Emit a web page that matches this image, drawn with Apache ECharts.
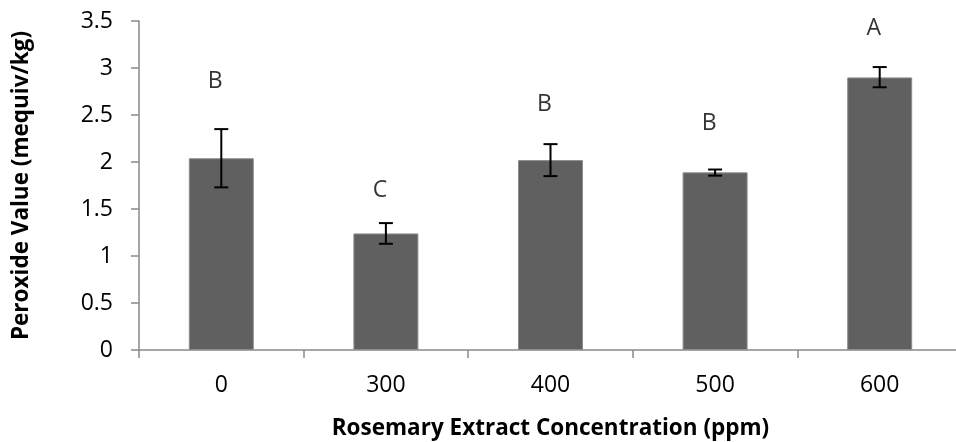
<!DOCTYPE html>
<html>
<head>
<meta charset="utf-8">
<script src="https://cdn.jsdelivr.net/npm/echarts@6/dist/echarts.min.js"></script>
<style>
html,body{margin:0;padding:0;background:#fff;}
#chart{width:956px;height:442px;}
</style>
</head>
<body>
<div id="chart"></div>
<script>
var categories = ['0', '300', '400', '500', '600'];
var peroxide = [2.04, 1.24, 2.02, 1.89, 2.90];
var errLow = [1.73, 1.13, 1.85, 1.855, 2.795];
var errHigh = [2.35, 1.35, 2.19, 1.92, 3.01];
var letters = ['B', 'C', 'B', 'B', 'A'];
var letterY = [2.86, 1.695, 2.61, 2.41, 3.42];
var yTicks = {min: 0, max: 3.5, interval: 0.5};

var FONT = 'Open Sans';
var chart = echarts.init(document.getElementById('chart'), null, {renderer: 'canvas'});

var errData = categories.map(function (c, i) { return [i, errLow[i], errHigh[i]]; });
var letterData = categories.map(function (c, i) { return {value: [i, letterY[i]], name: letters[i]}; });

var option = {
  animation: false,
  backgroundColor: '#ffffff',
  grid: {left: 139, top: 21, width: 823, bottom: 92, containLabel: false, outerBoundsMode: 'none'},
  xAxis: {
    type: 'category',
    data: categories,
    boundaryGap: true,
    name: 'Rosemary Extract Concentration (ppm)',
    nameLocation: 'middle',
    nameGap: 67,
    nameTextStyle: {fontFamily: FONT, fontWeight: 'bold', fontSize: 22.5, color: '#000'},
    axisLine: {lineStyle: {color: '#898989', width: 1.5}},
    axisTick: {show: true, length: 8, lineStyle: {color: '#898989', width: 1.5}},
    axisLabel: {fontFamily: FONT, fontSize: 23, color: '#000', margin: 24}
  },
  yAxis: {
    type: 'value',
    min: yTicks.min, max: yTicks.max, interval: yTicks.interval,
    name: 'Peroxide Value (mequiv/kg)',
    nameLocation: 'middle',
    nameGap: 106,
    nameTextStyle: {fontFamily: FONT, fontWeight: 'bold', fontSize: 22.5, color: '#000'},
    axisLine: {show: true, lineStyle: {color: '#898989', width: 1.5}},
    axisTick: {show: true, length: 8, lineStyle: {color: '#898989', width: 1.5}},
    splitLine: {show: false},
    axisLabel: {fontFamily: FONT, fontSize: 23, color: '#000', margin: 26}
  },
  series: [
    {
      type: 'bar',
      data: peroxide,
      barWidth: 65,
      itemStyle: {color: '#606060', borderColor: '#8c8c8c', borderWidth: 1},
      z: 2
    },
    {
      type: 'custom',
      data: errData,
      z: 5,
      renderItem: function (params, api) {
        var x = api.value(0);
        var lo = api.coord([x, api.value(1)]);
        var hi = api.coord([x, api.value(2)]);
        var cap = 7;
        var st = {stroke: '#000', lineWidth: 2};
        return {
          type: 'group',
          children: [
            {type: 'line', shape: {x1: lo[0], y1: lo[1], x2: hi[0], y2: hi[1]}, style: st},
            {type: 'line', shape: {x1: lo[0] - cap, y1: lo[1], x2: lo[0] + cap, y2: lo[1]}, style: st},
            {type: 'line', shape: {x1: hi[0] - cap, y1: hi[1], x2: hi[0] + cap, y2: hi[1]}, style: st}
          ]
        };
      }
    },
    {
      type: 'scatter',
      data: letterData,
      symbolSize: 0,
      z: 6,
      label: {
        show: true,
        position: 'inside',
        offset: [-6, 0],
        formatter: function (p) { return p.name; },
        fontFamily: FONT, fontSize: 23, color: '#000'
      }
    }
  ]
};
chart.setOption(option);
</script>
</body>
</html>
